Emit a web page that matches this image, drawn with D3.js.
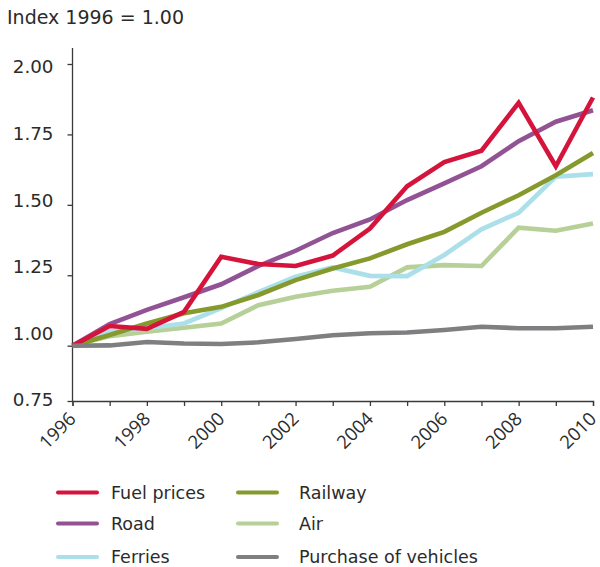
<!DOCTYPE html>
<html>
<head>
<meta charset="utf-8">
<script src="https://cdn.jsdelivr.net/npm/d3@7"></script>
<style>
  body { margin: 0; background: #fff; }
  svg text { fill: #2b2b2b; }
</style>
</head>
<body>
<svg id="chart" width="600" height="567"></svg>
<script>
const years = [1996, 1997, 1998, 1999, 2000, 2001, 2002, 2003, 2004, 2005, 2006, 2007, 2008, 2009, 2010];

const fuelPrices = [1.00, 1.07, 1.06, 1.12, 1.316, 1.29, 1.283, 1.32, 1.416, 1.566, 1.652, 1.692, 1.862, 1.637, 1.881];
const road       = [1.00, 1.077, 1.127, 1.172, 1.218, 1.283, 1.337, 1.40, 1.448, 1.517, 1.576, 1.637, 1.726, 1.795, 1.836];
const ferries    = [1.00, 1.05, 1.062, 1.079, 1.133, 1.19, 1.245, 1.278, 1.248, 1.247, 1.322, 1.413, 1.472, 1.60, 1.609];
const railway    = [1.00, 1.038, 1.079, 1.115, 1.138, 1.18, 1.233, 1.274, 1.31, 1.36, 1.404, 1.472, 1.534, 1.605, 1.684];
const air        = [1.00, 1.034, 1.05, 1.064, 1.079, 1.144, 1.174, 1.195, 1.209, 1.278, 1.286, 1.283, 1.419, 1.408, 1.434];
const purchase   = [1.00, 1.001, 1.013, 1.008, 1.006, 1.012, 1.024, 1.037, 1.044, 1.047, 1.056, 1.067, 1.062, 1.062, 1.067];

const yTicks = [0.75, 1.00, 1.25, 1.50, 1.75, 2.00];
const xTickLabels = [1996, 1998, 2000, 2002, 2004, 2006, 2008, 2010];

const series = [
  { name: "Fuel prices", values: fuelPrices, color: "#d5143c" },
  { name: "Road", values: road, color: "#925394" },
  { name: "Ferries", values: ferries, color: "#abdfe9" },
  { name: "Railway", values: railway, color: "#86992c" },
  { name: "Air", values: air, color: "#b6d098" },
  { name: "Purchase of vehicles", values: purchase, color: "#7f7f82" }
];
// back to front
const drawOrder = ["Air", "Ferries", "Railway", "Road", "Fuel prices", "Purchase of vehicles"];

const svg = d3.select("#chart");
const font = "'DejaVu Sans', Verdana, sans-serif";

const x = d3.scaleLinear().domain([1996, 2010]).range([72.5, 593]);
// bottom step of the axis is compressed in the original
const y = d3.scaleLinear().domain([0.75, 1.00, 2.00]).range([401, 345.7, 64]);
const yLabel = d3.scaleLinear().domain([0.75, 2.00]).range([400, 67]);

svg.append("text")
  .attr("x", 7)
  .attr("y", 24)
  .style("font-family", font)
  .style("font-size", "19px")
  .text("Index 1996 = 1.00");

// y axis
const yAxis = svg.append("g")
  .attr("transform", "translate(72.5,0)")
  .call(d3.axisLeft(y).tickValues(yTicks).tickSize(5).tickPadding(14).tickFormat(d3.format(".2f")));
yAxis.select(".domain").attr("d", `M0,48V${y(0.75)}`);
yAxis.selectAll("text")
  .attr("y", d => yLabel(d) - y(d))
  .style("font-family", font)
  .style("font-size", "18.3px")
  .style("fill", "#2b2b2b");

// x axis
const xAxis = svg.append("g")
  .attr("transform", `translate(0,${y(0.75)})`)
  .call(d3.axisBottom(x).tickValues(years).tickSize(5).tickFormat(""));
xAxis.selectAll(".tick")
  .filter(d => xTickLabels.includes(d))
  .append("text")
  .attr("transform", "translate(4,19) rotate(-45)")
  .attr("text-anchor", "end")
  .style("font-family", "'Open Sans', sans-serif")
  .style("font-size", "18.5px")
  .style("fill", "#2b2b2b")
  .text(d => d);

svg.selectAll(".domain, .tick line").attr("stroke", "#3a3a3a").attr("stroke-width", 1.3);

const line = d3.line()
  .x((d, i) => x(years[i]))
  .y(d => y(d));

svg.append("g")
  .selectAll("path")
  .data(drawOrder.map(n => series.find(s => s.name === n)))
  .join("path")
  .attr("d", d => line(d.values))
  .attr("fill", "none")
  .attr("stroke", d => d.color)
  .attr("stroke-width", 4.6)
  .attr("stroke-linejoin", "miter");

// legend
const legendCols = [58, 238];
const legendRows = [492.5, 523.5, 557];
const legend = svg.append("g")
  .selectAll("g")
  .data(series)
  .join("g")
  .attr("transform", (d, i) => `translate(${legendCols[Math.floor(i / 3)]},${legendRows[i % 3]})`);

legend.append("line")
  .attr("x1", 0).attr("x2", 39)
  .attr("stroke", d => d.color)
  .attr("stroke-width", 4)
  .attr("stroke-linecap", "round");

legend.append("text")
  .attr("x", (d, i) => i < 3 ? 53 : 61)
  .attr("dy", "0.35em")
  .style("font-family", font)
  .style("font-size", "17.5px")
  .text(d => d.name);
</script>
</body>
</html>
